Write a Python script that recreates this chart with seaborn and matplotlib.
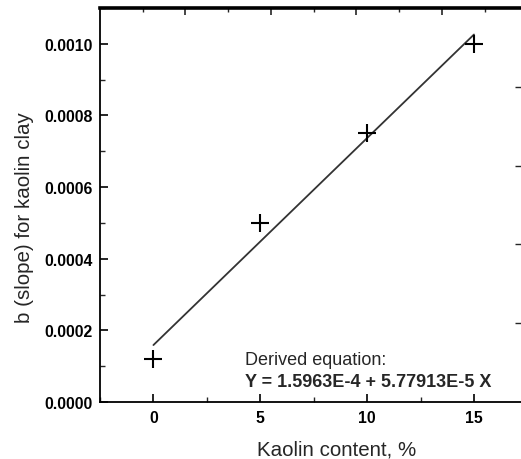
import numpy as np
import pandas as pd
import matplotlib
matplotlib.use("Agg")
import matplotlib.pyplot as plt
from matplotlib.ticker import MultipleLocator, FormatStrFormatter, FixedLocator, NullFormatter
import seaborn as sns

# data
kaolin_content = [0, 5, 10, 15]
slope_b = [0.00012, 0.00050, 0.00075, 0.00100]
x_label = "Kaolin content, %"
y_label = "b (slope) for kaolin clay"
eq_title = "Derived equation:"
eq_text = "Y = 1.5963E-4 + 5.77913E-5 X"

df = pd.DataFrame({"x": kaolin_content, "y": slope_b})

sns.set_style("ticks")
plt.rcParams["font.family"] = ["Liberation Sans", "DejaVu Sans"]

fig = plt.figure(figsize=(5.21, 4.60), dpi=100)
ax = fig.add_axes([100/521, 57/460, 421/521, 394/460])

sns.regplot(data=df, x="x", y="y", scatter=False, ci=None, truncate=True,
            line_kws=dict(color="#333333", lw=1.3), ax=ax)
sns.scatterplot(data=df, x="x", y="y", marker="+", s=150, color="black",
                linewidth=1.5, ax=ax, zorder=5)

ax.set_xlim(-2.5, 17.2)
ax.set_ylim(0, 0.0011)

ax.xaxis.set_major_locator(FixedLocator([0, 5, 10, 15]))
ax.xaxis.set_minor_locator(MultipleLocator(2.5))
ax.yaxis.set_major_locator(FixedLocator([0, 0.0002, 0.0004, 0.0006, 0.0008, 0.0010]))
ax.yaxis.set_minor_locator(MultipleLocator(0.0001))
ax.yaxis.set_major_formatter(FormatStrFormatter("%.4f"))
ax.xaxis.set_major_formatter(FormatStrFormatter("%d"))

ax.tick_params(axis="both", which="major", direction="in", length=6, width=1.2,
               labelsize=11.4, colors="black", pad=6)
ax.tick_params(axis="both", which="minor", direction="in", length=3.5, width=1.0)
ax.tick_params(axis="y", which="major", pad=5)
for lab in ax.get_xticklabels() + ax.get_yticklabels():
    lab.set_fontweight("bold")

for s in ["left", "bottom"]:
    ax.spines[s].set_linewidth(1.3)
    ax.spines[s].set_color("black")
ax.spines["top"].set_linewidth(2.6)
ax.spines["top"].set_color("black")
ax.spines["right"].set_visible(False)

# top ticks (independent scale)
axt = ax.secondary_xaxis("top")
axt.xaxis.set_major_locator(FixedLocator([1.5, 5.5, 9.5, 13.5]))
axt.xaxis.set_minor_locator(FixedLocator([-0.5, 3.5, 7.5, 11.5, 15.5]))
axt.xaxis.set_major_formatter(NullFormatter())
axt.tick_params(which="major", direction="in", length=5, width=1.2)
axt.tick_params(which="minor", direction="in", length=3, width=1.0)
axt.spines["top"].set_visible(False)

# right ticks
axr = ax.secondary_yaxis("right")
axr.yaxis.set_major_locator(FixedLocator([0.00022, 0.00044, 0.00066, 0.00088]))
axr.yaxis.set_major_formatter(NullFormatter())
axr.tick_params(which="major", direction="in", length=4, width=1.0)
axr.spines["right"].set_visible(False)

ax.set_xlabel(x_label, fontsize=14.8)
ax.set_ylabel(y_label, fontsize=14.8)
ax.xaxis.label.set_va("baseline")
ax.xaxis.set_label_coords(0.563, -0.132)
ax.yaxis.set_label_coords(-0.157, 0.47)

ax.text(0.344, 0.0964, eq_title, transform=ax.transAxes, fontsize=13,
        va="baseline", ha="left")
ax.text(0.344, 0.0406, eq_text, transform=ax.transAxes, fontsize=13,
        fontweight="bold", va="baseline", ha="left")

fig.savefig("out.png", dpi=100)
